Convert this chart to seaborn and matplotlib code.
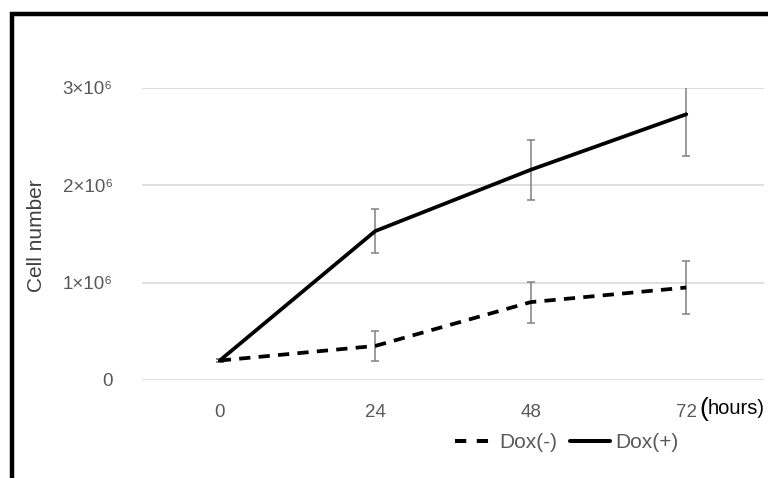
import pandas as pd
import matplotlib
matplotlib.use('Agg')
import matplotlib.pyplot as plt
from matplotlib.lines import Line2D
from matplotlib.patches import Rectangle
import seaborn as sns

# values
hours = ['0', '24', '48', '72']
dox_minus = [0.20e6, 0.35e6, 0.80e6, 0.95e6]
dox_minus_err = [0.02e6, 0.15e6, 0.21e6, 0.27e6]
dox_plus = [0.20e6, 1.53e6, 2.16e6, 2.73e6]
dox_plus_err = [0.02e6, 0.23e6, 0.31e6, 0.43e6]
y_ticks = [0, 1e6, 2e6, 3e6]
y_tick_labels = ['0', '1×10⁶', '2×10⁶', '3×10⁶']

df = pd.DataFrame({
    'hours': hours * 2,
    'cells': dox_minus + dox_plus,
    'group': ['Dox(-)'] * 4 + ['Dox(+)'] * 4,
})

sns.set_style('white')
plt.rcParams['font.family'] = ['Liberation Sans', 'DejaVu Sans']

fig = plt.figure(figsize=(7.68, 4.78), dpi=100)
ax = fig.add_axes([142 / 768, 1 - 380 / 478, (764 - 142) / 768, (380 - 88) / 478])

# error bars first so the lines sit on top
ax.errorbar(hours, dox_minus, yerr=dox_minus_err, fmt='none', ecolor='#808080',
            elinewidth=1.1, capsize=3, capthick=1.1, zorder=2)
ax.errorbar(hours, dox_plus, yerr=dox_plus_err, fmt='none', ecolor='#808080',
            elinewidth=1.1, capsize=3, capthick=1.1, zorder=2)

sns.lineplot(data=df, x='hours', y='cells', hue='group', style='group',
             palette={'Dox(-)': 'black', 'Dox(+)': 'black'},
             dashes={'Dox(-)': (3, 2.2), 'Dox(+)': ''},
             linewidth=2.7, legend=False, ax=ax, zorder=3)

ax.set_xlim(-0.5, 3.5)
ax.set_ylim(0, 3e6)
ax.set_yticks(y_ticks)
ax.set_yticklabels(y_tick_labels)
ax.yaxis.grid(True, color='#d9d9d9', linewidth=1.2)
ax.set_axisbelow(True)
sns.despine(ax=ax, left=True, bottom=True)
ax.tick_params(axis='both', length=0, labelsize=13.5, labelcolor='#595959')
ax.tick_params(axis='x', pad=17)
ax.tick_params(axis='y', pad=21)
ax.set_xlabel('')
ax.set_ylabel('')

fig.text(36 / 768, 1 - 236 / 478, 'Cell number', rotation=90, ha='center', va='center',
         fontsize=15, color='#404040')
fig.text(699 / 768, 1 - 409 / 478, '(', ha='left', va='center',
         fontsize=19, color='black')
fig.text(708 / 768, 1 - 409 / 478, 'hours)', ha='left', va='center',
         fontsize=14.5, color='black')

handles = [Line2D([], [], color='black', lw=2.9, dashes=(2.8, 2.6)),
           Line2D([], [], color='black', lw=2.9)]
fig.legend(handles, ['Dox(-)', 'Dox(+)'], loc='center left', ncol=2, frameon=False,
           bbox_to_anchor=(436 / 768, 1 - 443 / 478), fontsize=15, labelcolor='#595959',
           handlelength=1.9, handletextpad=0.25, columnspacing=0.6)

# black frame on the left and top edges
fig.patches.append(Rectangle((12 / 768, -0.2), 1.2, 1.2 - 14 / 478,
                             transform=fig.transFigure, fill=False,
                             edgecolor='black', linewidth=3.2))

fig.savefig('out.png', dpi=100)
